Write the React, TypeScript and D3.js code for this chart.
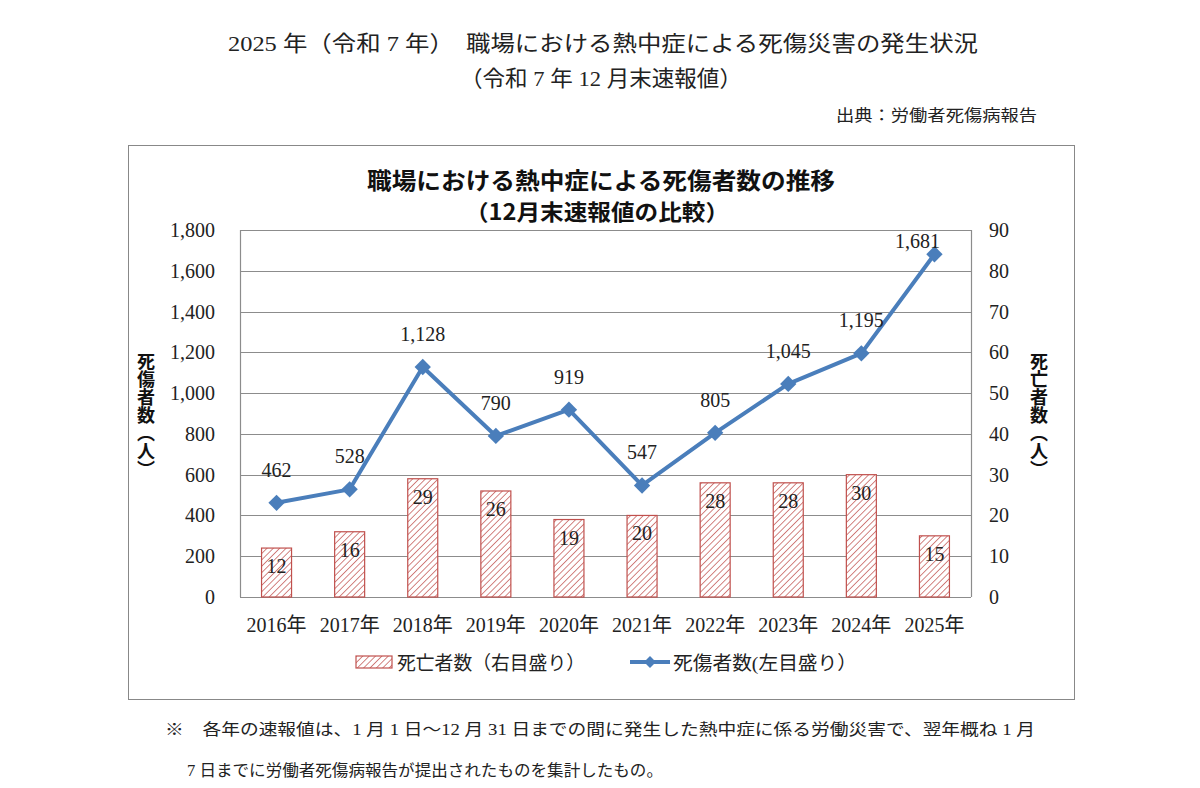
import { useEffect, useRef } from 'react';
import * as d3 from 'd3';

const years = ['2016年', '2017年', '2018年', '2019年', '2020年', '2021年', '2022年', '2023年', '2024年', '2025年'];
const casualties = [462, 528, 1128, 790, 919, 547, 805, 1045, 1195, 1681];
const deaths = [12, 16, 29, 26, 19, 20, 28, 28, 30, 15];
const leftTicks = [0, 200, 400, 600, 800, 1000, 1200, 1400, 1600, 1800];
const rightTicks = [0, 10, 20, 30, 40, 50, 60, 70, 80, 90];

const FONT = "'Liberation Serif', 'DejaVu Serif', 'Noto Sans CJK JP', serif";
const JP = "'Noto Sans CJK JP', sans-serif";
const BLUE = '#4a7ebb';
const RED = '#c0504d';

export default function App() {
    const ref = useRef<SVGSVGElement>(null);

    useEffect(() => {
        if (!ref.current) return;
        const svg = d3.select(ref.current);
        svg.selectAll('*').remove();

        const W = 1200, H = 788;
        svg.attr('width', W).attr('height', H);
        svg.append('rect').attr('width', W).attr('height', H).attr('fill', '#fff');

        // hatch pattern
        const defs = svg.append('defs');
        const pat = defs.append('pattern')
            .attr('id', 'hatch')
            .attr('patternUnits', 'userSpaceOnUse')
            .attr('width', 4.5).attr('height', 4.5)
            .attr('patternTransform', 'rotate(45)');
        pat.append('rect').attr('width', 4.5).attr('height', 4.5).attr('fill', '#fff');
        pat.append('line')
            .attr('x1', 0).attr('y1', 0).attr('x2', 0).attr('y2', 4.5)
            .attr('stroke', RED).attr('stroke-width', 1.4);

        // page texts, stretched to the widths seen in the reference
        const fitText = (x0: number, y: number, len: number, size: number, s: string) =>
            svg.append('text')
                .attr('x', x0).attr('y', y)
                .attr('textLength', len).attr('lengthAdjust', 'spacingAndGlyphs')
                .attr('font-family', FONT).attr('font-size', size).attr('fill', '#222')
                .text(s);

        fitText(228, 51, 750, 22, '2025 年（令和 7 年）　職場における熱中症による死傷災害の発生状況');
        fitText(460, 86, 282, 22, '（令和 7 年 12 月末速報値）');
        fitText(836, 121, 201, 16, '出典：労働者死傷病報告');

        // chart frame
        svg.append('rect')
            .attr('x', 128.5).attr('y', 145.5).attr('width', 946).attr('height', 554)
            .attr('fill', 'none').attr('stroke', '#888').attr('stroke-width', 1);

        svg.append('text')
            .attr('x', 367).attr('y', 189)
            .attr('textLength', 468).attr('lengthAdjust', 'spacingAndGlyphs')
            .attr('font-family', JP).attr('font-weight', 'bold').attr('font-size', 23).attr('fill', '#111')
            .text('職場における熱中症による死傷者数の推移');
        svg.append('text')
            .attr('x', 465).attr('y', 220)
            .attr('textLength', 264).attr('lengthAdjust', 'spacingAndGlyphs')
            .attr('font-family', JP).attr('font-weight', 'bold').attr('font-size', 22).attr('fill', '#111')
            .text('（12月末速報値の比較）');

        const left = 240, right = 971, top = 230, bottom = 597;

        const x = d3.scaleBand().domain(years).range([left, right]);
        const yL = d3.scaleLinear().domain([0, 1800]).range([bottom, top]);
        const yR = d3.scaleLinear().domain([0, 90]).range([bottom, top]);

        // gridlines
        svg.append('g')
            .selectAll('line')
            .data(leftTicks)
            .enter()
            .append('line')
            .attr('x1', left).attr('x2', right)
            .attr('y1', d => Math.round(yL(d)) + 0.5).attr('y2', d => Math.round(yL(d)) + 0.5)
            .attr('stroke', '#8c8c8c').attr('stroke-width', 1.2);
        svg.append('line')
            .attr('x1', left + 0.5).attr('x2', left + 0.5).attr('y1', top).attr('y2', bottom)
            .attr('stroke', '#8c8c8c').attr('stroke-width', 1.2);
        svg.append('line')
            .attr('x1', right + 0.5).attr('x2', right + 0.5).attr('y1', top).attr('y2', bottom)
            .attr('stroke', '#8c8c8c').attr('stroke-width', 1.2);

        // left axis labels
        svg.append('g')
            .selectAll('text')
            .data(leftTicks)
            .enter()
            .append('text')
            .attr('x', 215).attr('y', d => yL(d) + 7)
            .attr('text-anchor', 'end')
            .attr('font-family', FONT).attr('font-size', 20).attr('fill', '#222')
            .text(d => d3.format(',')(d));

        // right axis labels
        svg.append('g')
            .selectAll('text')
            .data(rightTicks)
            .enter()
            .append('text')
            .attr('x', 989).attr('y', d => yR(d) + 7)
            .attr('text-anchor', 'start')
            .attr('font-family', FONT).attr('font-size', 20).attr('fill', '#222')
            .text(d => d);

        // x labels
        svg.append('g')
            .selectAll('text')
            .data(years)
            .enter()
            .append('text')
            .attr('x', d => x(d)! + x.bandwidth() / 2).attr('y', 632)
            .attr('text-anchor', 'middle')
            .attr('font-family', FONT).attr('font-size', 20).attr('fill', '#222')
            .text(d => d);

        // vertical axis titles
        const vtitle = (cx: number, cy: number, s: string) =>
            svg.append('text')
                .attr('x', cx).attr('y', cy)
                .attr('text-anchor', 'middle')
                .attr('writing-mode', 'vertical-rl')
                .attr('font-family', JP).attr('font-weight', 'bold').attr('font-size', 18).attr('fill', '#111')
                .text(s);
        vtitle(146, 415, '死傷者数（人）');
        vtitle(1039, 415, '死亡者数（人）');

        // bars
        const bw = 30;
        svg.append('g')
            .selectAll('rect')
            .data(deaths)
            .enter()
            .append('rect')
            .attr('x', (_, i) => x(years[i])! + x.bandwidth() / 2 - bw / 2)
            .attr('y', d => yR(d))
            .attr('width', bw)
            .attr('height', d => bottom - yR(d))
            .attr('fill', 'url(#hatch)')
            .attr('stroke', RED).attr('stroke-width', 1.2);

        svg.append('g')
            .selectAll('text')
            .data(deaths)
            .enter()
            .append('text')
            .attr('x', (_, i) => x(years[i])! + x.bandwidth() / 2)
            .attr('y', d => yR(d) + 25)
            .attr('text-anchor', 'middle')
            .attr('font-family', FONT).attr('font-size', 20).attr('fill', '#222')
            .text(d => d);

        // line
        const line = d3.line<number>()
            .x((_, i) => x(years[i])! + x.bandwidth() / 2)
            .y(d => yL(d));
        svg.append('path')
            .datum(casualties)
            .attr('fill', 'none')
            .attr('stroke', BLUE)
            .attr('stroke-width', 4)
            .attr('stroke-linejoin', 'round')
            .attr('d', line);

        const diamond = d3.symbol().type(d3.symbolDiamond2).size(170);
        svg.append('g')
            .selectAll('path')
            .data(casualties)
            .enter()
            .append('path')
            .attr('transform', (d, i) => `translate(${x(years[i])! + x.bandwidth() / 2},${yL(d)})`)
            .attr('d', diamond)
            .attr('fill', BLUE);

        svg.append('g')
            .selectAll('text')
            .data(casualties)
            .enter()
            .append('text')
            .attr('x', (_, i) => x(years[i])! + x.bandwidth() / 2 - (i === 9 ? 17 : 0))
            .attr('y', (d, i) => yL(d) - (i === 9 ? 6 : 26))
            .attr('text-anchor', 'middle')
            .attr('font-family', FONT).attr('font-size', 20).attr('fill', '#222')
            .text(d => d3.format(',')(d));

        // legend
        const lg = svg.append('g');
        lg.append('rect')
            .attr('x', 356).attr('y', 656).attr('width', 36).attr('height', 12)
            .attr('fill', 'url(#hatch)').attr('stroke', RED).attr('stroke-width', 1.2);
        lg.append('text')
            .attr('x', 397).attr('y', 670)
            .attr('textLength', 188).attr('lengthAdjust', 'spacingAndGlyphs')
            .attr('font-family', FONT).attr('font-size', 19).attr('fill', '#222')
            .text('死亡者数（右目盛り）');
        lg.append('line')
            .attr('x1', 630).attr('x2', 670).attr('y1', 662).attr('y2', 662)
            .attr('stroke', BLUE).attr('stroke-width', 4);
        lg.append('path')
            .attr('transform', 'translate(650,662)')
            .attr('d', d3.symbol().type(d3.symbolDiamond2).size(90)())
            .attr('fill', BLUE);
        lg.append('text')
            .attr('x', 673).attr('y', 670)
            .attr('textLength', 184).attr('lengthAdjust', 'spacingAndGlyphs')
            .attr('font-family', FONT).attr('font-size', 19).attr('fill', '#222')
            .text('死傷者数(左目盛り）');

        // footnote
        fitText(165, 735, 870, 16, '※　各年の速報値は、1 月 1 日～12 月 31 日までの間に発生した熱中症に係る労働災害で、翌年概ね 1 月');
        fitText(187, 776, 476, 16, '7 日までに労働者死傷病報告が提出されたものを集計したもの。');
    }, []);

    return (
        <div style={{ position: 'absolute', left: 0, top: 0 }}>
            <svg ref={ref} style={{ display: 'block' }} />
        </div>
    );
}
